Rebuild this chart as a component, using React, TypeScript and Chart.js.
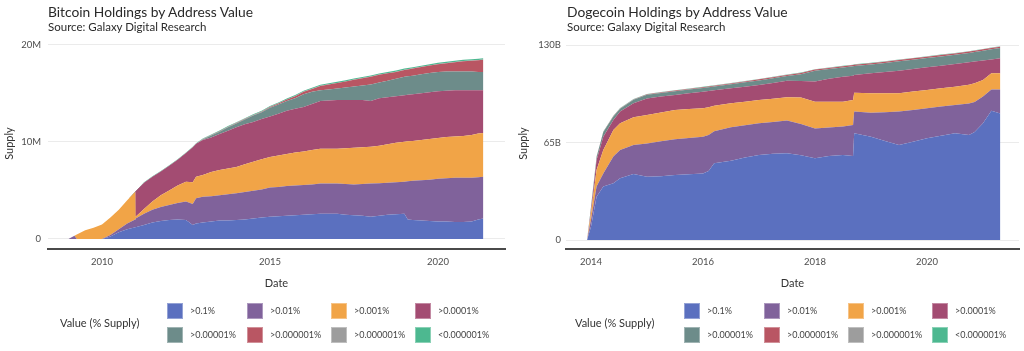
import React, { useEffect, useRef } from 'react';
import { Chart, registerables } from 'chart.js';

Chart.register(...registerables);

// ---------- shared ----------
const seriesLabels = ['>0.1%', '>0.01%', '>0.001%', '>0.0001%', '>0.00001%', '>0.000001%', '>0.000001%', '<0.000001%'];
const seriesColors = ['#5b70bf', '#80629b', '#f1a447', '#a34c72', '#6d8c8a', '#b95663', '#9d9d9d', '#4db890'];

// ---------- Bitcoin (millions of BTC, cumulative top of each band) ----------
const btcDates = [2009.0, 2009.18, 2009.25, 2009.5, 2009.75, 2010.0, 2010.25, 2010.5, 2010.75, 2010.99, 2011.0, 2011.25, 2011.5, 2011.75, 2012.0, 2012.25, 2012.5, 2012.7, 2012.8, 2013.0, 2013.25, 2013.5, 2013.75, 2014.0, 2014.25, 2014.5, 2014.75, 2015.0, 2015.25, 2015.5, 2015.75, 2016.0, 2016.25, 2016.5, 2016.75, 2017.0, 2017.25, 2017.5, 2017.75, 2018.0, 2018.25, 2018.5, 2018.75, 2019.0, 2019.1, 2019.25, 2019.5, 2019.75, 2020.0, 2020.25, 2020.5, 2020.75, 2021.0, 2021.2, 2021.35];
const btcAbove01 = [0, 0, 0, 0, 0, 0, 0.25, 0.7, 1.0, 1.2, 1.2, 1.45, 1.7, 1.85, 1.95, 2.0, 1.95, 1.45, 1.6, 1.7, 1.8, 1.9, 1.9, 1.95, 2.0, 2.1, 2.2, 2.3, 2.35, 2.4, 2.45, 2.5, 2.55, 2.6, 2.6, 2.6, 2.5, 2.45, 2.4, 2.3, 2.4, 2.5, 2.55, 2.6, 2.0, 1.95, 1.9, 1.85, 1.8, 1.8, 1.75, 1.75, 1.8, 2.0, 2.1];
const btcAbove001 = [0, 0.34, 0, 0, 0, 0, 0.4, 1.0, 1.6, 2.0, 2.1, 2.6, 3.0, 3.3, 3.5, 3.7, 3.85, 3.6, 4.2, 4.35, 4.4, 4.5, 4.6, 4.7, 4.85, 4.97, 5.1, 5.3, 5.35, 5.45, 5.5, 5.55, 5.6, 5.7, 5.7, 5.7, 5.65, 5.6, 5.65, 5.7, 5.75, 5.8, 5.85, 5.9, 5.95, 6.0, 6.05, 6.1, 6.2, 6.25, 6.3, 6.3, 6.3, 6.35, 6.4];
const btcAbove0001 = [0, 0.34, 0.45, 0.9, 1.15, 1.5, 2.2, 3.0, 4.0, 4.87, 2.3, 3.1, 3.85, 4.5, 5.0, 5.5, 5.9, 5.85, 6.4, 6.6, 6.9, 7.1, 7.25, 7.4, 7.7, 7.96, 8.2, 8.45, 8.6, 8.75, 8.9, 9.0, 9.15, 9.3, 9.3, 9.3, 9.35, 9.4, 9.45, 9.5, 9.6, 9.75, 9.9, 10.0, 10.05, 10.1, 10.2, 10.3, 10.4, 10.5, 10.55, 10.6, 10.7, 10.85, 10.9];
const btcAbove00001 = [0, 0.34, 0.45, 0.9, 1.15, 1.5, 2.2, 3.0, 4.0, 4.87, 4.87, 5.8, 6.4, 6.95, 7.55, 8.15, 8.85, 9.45, 9.8, 10.2, 10.45, 10.8, 11.15, 11.5, 11.8, 12.05, 12.35, 12.6, 12.9, 13.2, 13.4, 13.6, 13.9, 14.2, 14.25, 14.3, 14.3, 14.3, 14.3, 14.2, 14.5, 14.6, 14.7, 14.8, 14.85, 14.9, 15.0, 15.1, 15.2, 15.25, 15.3, 15.3, 15.3, 15.3, 15.3];
const btcAbove000001 = [0, 0.34, 0.45, 0.9, 1.15, 1.5, 2.2, 3.0, 4.0, 4.87, 4.87, 5.8, 6.4, 6.95, 7.55, 8.15, 8.85, 9.45, 9.8, 10.25, 10.65, 11.05, 11.5, 11.9, 12.3, 12.7, 13.05, 13.5, 13.85, 14.2, 14.5, 14.9, 15.15, 15.3, 15.4, 15.5, 15.6, 15.7, 15.8, 15.9, 16.1, 16.3, 16.5, 16.7, 16.75, 16.8, 16.95, 17.1, 17.2, 17.25, 17.25, 17.25, 17.25, 17.2, 17.2];
const btcAbove0000001 = [0, 0.34, 0.45, 0.9, 1.15, 1.5, 2.2, 3.0, 4.0, 4.87, 4.87, 5.8, 6.4, 6.95, 7.55, 8.15, 8.85, 9.45, 9.8, 10.27, 10.68, 11.08, 11.53, 11.94, 12.35, 12.75, 13.1, 13.6, 13.95, 14.35, 14.7, 15.15, 15.45, 15.75, 15.9, 16.05, 16.2, 16.4, 16.55, 16.7, 16.9, 17.05, 17.2, 17.4, 17.45, 17.55, 17.7, 17.85, 18.0, 18.1, 18.2, 18.3, 18.35, 18.4, 18.45];
const btcAbove00000001 = [0, 0.34, 0.45, 0.9, 1.15, 1.5, 2.2, 3.0, 4.0, 4.87, 4.87, 5.8, 6.4, 6.95, 7.55, 8.15, 8.85, 9.45, 9.8, 10.29, 10.7, 11.1, 11.55, 11.96, 12.37, 12.77, 13.12, 13.62, 13.97, 14.37, 14.72, 15.17, 15.47, 15.77, 15.92, 16.07, 16.22, 16.42, 16.57, 16.72, 16.92, 17.07, 17.22, 17.42, 17.47, 17.57, 17.72, 17.87, 18.02, 18.12, 18.22, 18.32, 18.38, 18.43, 18.48];
const btcBelow000001 = [0, 0.34, 0.45, 0.9, 1.15, 1.5, 2.2, 3.0, 4.0, 4.87, 4.9, 5.85, 6.45, 7.0, 7.6, 8.2, 8.9, 9.5, 9.85, 10.35, 10.76, 11.16, 11.62, 12.03, 12.44, 12.85, 13.2, 13.7, 14.06, 14.46, 14.81, 15.27, 15.57, 15.87, 16.02, 16.18, 16.33, 16.53, 16.68, 16.83, 17.03, 17.18, 17.34, 17.54, 17.59, 17.69, 17.84, 17.99, 18.14, 18.24, 18.34, 18.44, 18.5, 18.55, 18.61];
const btcXTicks = [2010, 2015, 2020];
const btcYTicks = [0, 10, 20];
const btcYTickLabels = ['0', '10M', '20M'];

// ---------- Dogecoin (billions of DOGE, cumulative top of each band) ----------
const dogeDates = [2013.93, 2014.0, 2014.1, 2014.22, 2014.4, 2014.52, 2014.76, 2015.0, 2015.25, 2015.5, 2015.75, 2016.0, 2016.1, 2016.2, 2016.5, 2016.75, 2017.0, 2017.25, 2017.5, 2017.75, 2018.0, 2018.25, 2018.5, 2018.68, 2018.7, 2019.0, 2019.25, 2019.5, 2019.75, 2020.0, 2020.25, 2020.5, 2020.75, 2020.85, 2021.0, 2021.15, 2021.31];
const dogeAbove01 = [0, 8.9, 28.9, 35.6, 37.8, 41.1, 44, 42.2, 42.5, 43.3, 43.8, 44.4, 46, 51.1, 52.9, 55, 56.7, 57.5, 57.8, 56.5, 54.5, 56, 56.7, 56, 71.1, 68.9, 66, 63.3, 65.5, 67.8, 69.5, 71.1, 70, 72, 77.8, 86.2, 84.4];
const dogeAbove001 = [0, 13.3, 35.6, 44.4, 55.6, 60, 63.3, 64.4, 65.8, 67.1, 68, 68.9, 70, 72.5, 75.1, 76.5, 77.8, 78.7, 79.6, 77.3, 74.4, 75, 75.6, 76.7, 85.6, 84.9, 85.2, 85.6, 86.7, 87.8, 89, 90, 91, 92, 95.6, 100.4, 100.4];
const dogeAbove0001 = [0, 17.8, 46.7, 60, 73.3, 77.8, 81.8, 83.3, 85, 86.7, 87.3, 87.8, 88.5, 89.5, 91.1, 92.2, 93.3, 94.2, 95.1, 95, 92.2, 92.2, 92.2, 93.3, 98.2, 97.8, 97.8, 97.8, 99, 100, 101.1, 102.2, 103.5, 104.5, 106.7, 111.1, 111.1];
const dogeAbove00001 = [0, 20, 53.3, 68.9, 80, 85.6, 91.1, 94.4, 95.6, 96.7, 97.8, 98.9, 99.3, 99.8, 101.1, 102.2, 103.3, 104.7, 106.2, 106, 105.6, 107.5, 108.9, 109.5, 110, 111.1, 112, 112.9, 114, 115.1, 116.2, 117.3, 118.5, 119, 119.6, 120.4, 121.1];
const dogeAbove000001 = [0, 22, 55.4, 72, 82.4, 87.5, 93.5, 96.8, 98, 99.2, 100.3, 101.3, 101.8, 102.4, 103.8, 105.1, 106.4, 107.8, 109.3, 110.5, 112.8, 114, 115, 115.8, 116, 117, 118, 119.1, 120.2, 121.3, 122.4, 123.5, 124.7, 125.3, 126.2, 127.1, 128];
const dogeAbove0000001 = [0, 22.1, 55.5, 72.1, 82.6, 87.7, 93.7, 97.1, 98.4, 99.6, 100.7, 101.8, 102.3, 102.9, 104.4, 105.7, 107.1, 108.5, 110, 111.3, 113.6, 114.7, 115.8, 116.6, 116.8, 117.8, 118.9, 120, 121.1, 122.2, 123.3, 124.4, 125.6, 126.2, 127.1, 128, 128.9];
const dogeAbove00000001 = [0, 22.15, 55.6, 72.2, 82.7, 87.8, 93.8, 97.2, 98.5, 99.7, 100.8, 101.9, 102.4, 103, 104.5, 105.8, 107.2, 108.6, 110.1, 111.4, 113.7, 114.8, 115.9, 116.7, 116.9, 117.9, 119, 120.1, 121.2, 122.3, 123.4, 124.5, 125.7, 126.3, 127.2, 128.1, 129];
const dogeBelow000001 = [0, 22.2, 55.7, 72.4, 82.9, 88, 94, 97.4, 98.7, 99.9, 101, 102.1, 102.6, 103.2, 104.7, 106, 107.4, 108.8, 110.3, 111.6, 113.9, 115, 116.1, 116.9, 117.1, 118.1, 119.2, 120.3, 121.4, 122.5, 123.6, 124.7, 125.9, 126.5, 127.4, 128.3, 129.2];
const dogeXTicks = [2014, 2016, 2018, 2020];
const dogeYTicks = [0, 65, 130];
const dogeYTickLabels = ['0', '65B', '130B'];

const FONT = 'Lato, "Open Sans", sans-serif';

type PanelProps = {
  left: number;
  title: string;
  subtitle: string;
  dates: number[];
  series: number[][];
  xTicks: number[];
  yTicks: number[];
  yTickLabels: string[];
  xMin: number;
  xMax: number;
  yMin: number;
  yMax: number;
  yAxisWidth: number;
  rightPad: number;
  yTickPad: number;
  yTitlePad: number;
  titleLeft: number;
  legendLeft: number;
  legendTitleLeft: number;
};

function Panel(p: PanelProps) {
  const ref = useRef<HTMLCanvasElement>(null);
  useEffect(() => {
    const canvas = ref.current;
    if (!canvas) return;
    const datasets = p.series.map((vals, i) => ({
      label: seriesLabels[i],
      data: p.dates.map((d, j) => ({ x: d, y: vals[j] })),
      backgroundColor: seriesColors[i],
      borderColor: seriesColors[i],
      borderWidth: 0,
      pointRadius: 0,
      fill: i === 0 ? 'origin' : '-1',
      tension: 0,
    }));
    const chart = new Chart(canvas, {
      type: 'line',
      data: { datasets } as any,
      options: {
        responsive: false,
        animation: false,
        devicePixelRatio: 1,
        layout: { padding: { left: 0, right: p.rightPad, top: 38, bottom: 56 } },
        plugins: { legend: { display: false }, tooltip: { enabled: false }, title: { display: false } },
        scales: {
          x: {
            type: 'linear',
            min: p.xMin,
            max: p.xMax,
            grid: { display: true, drawOnChartArea: false, drawTicks: false },
            border: { display: true, color: '#4a4a4a', width: 2 },
            afterBuildTicks: (s: any) => {
              s.ticks = p.xTicks.map((v) => ({ value: v }));
            },
            afterFit: (s: any) => {
              s.height = 46;
            },
            ticks: {
              padding: 7,
              color: '#4d4d4d',
              font: { family: FONT, size: 9.5 },
              maxRotation: 0,
              autoSkip: false,
              callback: (v: any) => String(v),
            },
            title: {
              display: true,
              text: 'Date',
              color: '#333',
              font: { family: FONT, size: 11 },
              padding: { top: 0, bottom: 5 },
            },
          },
          y: {
            type: 'linear',
            min: p.yMin,
            max: p.yMax,
            grid: { color: '#ebebeb', drawTicks: false, lineWidth: 1 },
            border: { display: false },
            afterBuildTicks: (s: any) => {
              s.ticks = p.yTicks.map((v) => ({ value: v }));
            },
            afterFit: (s: any) => {
              s.width = p.yAxisWidth;
            },
            ticks: {
              padding: p.yTickPad,
              color: '#4d4d4d',
              font: { family: FONT, size: 9.5 },
              callback: (v: any) => {
                const k = p.yTicks.indexOf(Number(v));
                return k >= 0 ? p.yTickLabels[k] : '';
              },
            },
            title: {
              display: true,
              text: 'Supply',
              color: '#333',
              font: { family: FONT, size: 11 },
              padding: { top: p.yTitlePad, bottom: 0 },
            },
          },
        },
      } as any,
    });
    return () => chart.destroy();
  }, []);

  const colOffsets = [0, 80, 164, 248];
  const rowTops = [303, 327];

  return (
    <div style={{ position: 'absolute', left: p.left, top: 0, width: 512, height: 351, fontFamily: FONT }}>
      <canvas ref={ref} width={512} height={351} style={{ position: 'absolute', left: 0, top: 0, width: 512, height: 351, display: 'block' }} />
      <div style={{ position: 'absolute', left: p.titleLeft, top: 3, fontSize: 13.8, lineHeight: '17px', color: '#2a2a2a', whiteSpace: 'nowrap' }}>{p.title}</div>
      <div style={{ position: 'absolute', left: p.titleLeft, top: 19.5, fontSize: 11.5, lineHeight: '13px', color: '#2a2a2a', whiteSpace: 'nowrap' }}>{p.subtitle}</div>
      <div style={{ position: 'absolute', left: p.legendTitleLeft, top: 316, fontSize: 11, lineHeight: '14px', color: '#333', whiteSpace: 'nowrap' }}>Value (% Supply)</div>
      {seriesLabels.map((lab, i) => {
        const col = i % 4;
        const row = Math.floor(i / 4);
        const x = p.legendLeft + colOffsets[col];
        const y = rowTops[row];
        return (
          <React.Fragment key={i}>
            <div style={{ position: 'absolute', left: x, top: y, width: 16, height: 16, background: seriesColors[i], boxSizing: 'border-box', border: '1px solid rgba(255,255,255,0.35)' }} />
            <div style={{ position: 'absolute', left: x + 23, top: y + 1, fontSize: 9, lineHeight: '14px', color: '#444', whiteSpace: 'nowrap' }}>{lab}</div>
          </React.Fragment>
        );
      })}
    </div>
  );
}

export default function App() {
  useEffect(() => {
    document.body.style.margin = '0';
  }, []);
  return (
    <div style={{ position: 'absolute', left: 0, top: 0, width: 1024, height: 351, background: '#fff', overflow: 'hidden' }}>
      <Panel
        left={0}
        title="Bitcoin Holdings by Address Value"
        subtitle="Source: Galaxy Digital Research"
        dates={btcDates}
        series={[btcAbove01, btcAbove001, btcAbove0001, btcAbove00001, btcAbove000001, btcAbove0000001, btcAbove00000001, btcBelow000001]}
        xTicks={btcXTicks}
        yTicks={btcYTicks}
        yTickLabels={btcYTickLabels}
        xMin={2008.393}
        xMax={2021.994}
        yMin={-1.03}
        yMax={20.69}
        yAxisWidth={48}
        rightPad={7}
        yTickPad={7}
        yTitlePad={3}
        titleLeft={48}
        legendLeft={167}
        legendTitleLeft={60}
      />
      <Panel
        left={512}
        title="Dogecoin Holdings by Address Value"
        subtitle="Source: Galaxy Digital Research"
        dates={dogeDates}
        series={[dogeAbove01, dogeAbove001, dogeAbove0001, dogeAbove00001, dogeAbove000001, dogeAbove0000001, dogeAbove00000001, dogeBelow000001]}
        xTicks={dogeXTicks}
        yTicks={dogeYTicks}
        yTickLabels={dogeYTickLabels}
        xMin={2013.554}
        xMax={2021.643}
        yMin={-6}
        yMax={134.67}
        yAxisWidth={54}
        rightPad={5}
        yTickPad={5}
        yTitlePad={5}
        titleLeft={55}
        legendLeft={172}
        legendTitleLeft={63}
      />
    </div>
  );
}
